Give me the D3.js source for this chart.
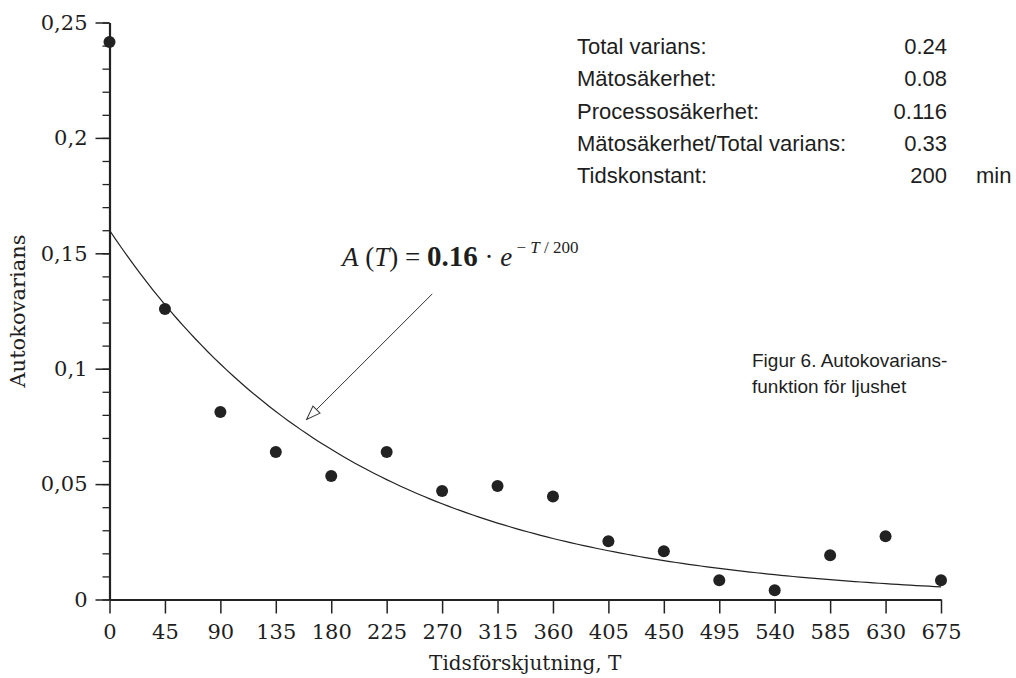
<!DOCTYPE html>
<html lang="sv">
<head>
  <meta charset="UTF-8">
  <title>Autokovariansfunktion</title>
  <style>
    body { margin: 0; background: #fff; }
    svg text { fill: #1e1e1e; }
  </style>
</head>
<body>
  <script src="https://d3js.org/d3.v7.min.js"></script>
  <script>
    const width = 1016;
    const height = 678;

    // data
    const lags = [0, 45, 90, 135, 180, 225, 270, 315, 360, 405, 450, 495, 540, 585, 630, 675];
    const autocov = [0.2416, 0.1259, 0.0812, 0.0639, 0.0535, 0.0639, 0.047, 0.0492,
                     0.0446, 0.0252, 0.0209, 0.0083, 0.004, 0.0192, 0.0274, 0.0083];
    const yTicks = [0, 0.05, 0.1, 0.15, 0.2, 0.25];
    // fitted model A(T) = 0.16 * exp(-T/200)
    const fitAmp = 0.16;
    const fitTau = 200;

    const statLabels = ['Total varians:', 'Mätosäkerhet:', 'Processosäkerhet:', 'Mätosäkerhet/Total varians:', 'Tidskonstant:'];
    const statValues = ['0.24', '0.08', '0.116', '0.33', '200'];
    const statUnits = ['', '', '', '', 'min'];

    const x = d3.scaleLinear().domain([0, 675]).range([109.5, 941]);
    const y = d3.scaleLinear().domain([0, 0.25]).range([599.5, 22.5]);

    const svg = d3.select('body')
                  .append('svg')
                  .attr('width', width)
                  .attr('height', height);

    const serif = 'DejaVu Serif, serif';
    const sans = 'Liberation Sans, Arial, sans-serif';

    // y axis, major + minor ticks
    const yMinor = svg.append('g')
        .attr('transform', 'translate(' + x(0) + ',0)')
        .call(d3.axisLeft(y).ticks(25).tickSize(7).tickFormat(''));
    yMinor.select('.domain').remove();
    yMinor.selectAll('line').attr('stroke', '#222').attr('stroke-width', 1.3);

    const yAxis = svg.append('g')
        .attr('transform', 'translate(' + x(0) + ',0)')
        .call(d3.axisLeft(y).tickValues(yTicks).tickSizeInner(14).tickSizeOuter(0).tickPadding(8)
              .tickFormat(d => d3.format('~g')(d).replace('.', ',')));
    yAxis.select('.domain').attr('stroke', '#222').attr('stroke-width', 2.2);
    yAxis.selectAll('line').attr('stroke', '#222').attr('stroke-width', 1.5);
    yAxis.selectAll('text').style('font-family', serif).style('font-size', '21px').style('fill', '#1e1e1e');

    // x axis
    const xAxis = svg.append('g')
        .attr('transform', 'translate(0,' + y(0) + ')')
        .call(d3.axisBottom(x).tickValues(lags).tickSizeInner(14).tickSizeOuter(0).tickPadding(11));
    xAxis.select('.domain').attr('stroke', '#222').attr('stroke-width', 2.2);
    xAxis.selectAll('line').attr('stroke', '#222').attr('stroke-width', 1.5);
    xAxis.selectAll('text').style('font-family', serif).style('font-size', '21px').style('fill', '#1e1e1e');

    // axis titles
    svg.append('text')
        .attr('x', x(337.5))
        .attr('y', 670)
        .attr('text-anchor', 'middle')
        .style('font-family', serif)
        .style('font-size', '20px')
        .text('Tidsförskjutning, T');

    svg.append('text')
        .attr('transform', 'translate(25,' + y(0.125) + ') rotate(-90)')
        .attr('text-anchor', 'middle')
        .style('font-family', serif)
        .style('font-size', '21px')
        .text('Autokovarians');

    // fitted curve
    const curveT = d3.range(0, 676, 5);
    const line = d3.line()
        .x(t => x(t))
        .y(t => y(fitAmp * Math.exp(-t / fitTau)));
    svg.append('path')
        .datum(curveT)
        .attr('d', line)
        .attr('fill', 'none')
        .attr('stroke', '#222')
        .attr('stroke-width', 1.2);

    // measured points
    svg.selectAll('circle.pt')
        .data(lags)
        .enter()
        .append('circle')
        .attr('class', 'pt')
        .attr('cx', d => x(d))
        .attr('cy', (d, i) => y(autocov[i]))
        .attr('r', 6)
        .attr('fill', '#222');

    // formula + arrow
    const formula = svg.append('text')
        .attr('x', 342)
        .attr('y', 266)
        .style('font-family', 'Liberation Serif, serif')
        .style('font-size', '27px');
    formula.append('tspan').style('font-style', 'italic').text('A');
    formula.append('tspan').text(' (');
    formula.append('tspan').style('font-style', 'italic').text('T');
    formula.append('tspan').text(') = ');
    formula.append('tspan').style('font-weight', 'bold').style('font-size', '29px').text('0.16');
    formula.append('tspan').text(' · ');
    formula.append('tspan').style('font-style', 'italic').text('e');
    const sup = formula.append('tspan').attr('dy', -13).style('font-size', '17px');
    sup.append('tspan').text(' − ');
    sup.append('tspan').style('font-style', 'italic').text('T');
    sup.append('tspan').text(' / 200');

    svg.append('defs').append('marker')
        .attr('id', 'openArrow')
        .attr('viewBox', '0 0 16 12')
        .attr('refX', 15)
        .attr('refY', 6)
        .attr('markerWidth', 16)
        .attr('markerHeight', 12)
        .attr('markerUnits', 'userSpaceOnUse')
        .attr('orient', 'auto')
        .append('path')
        .attr('d', 'M1,1 L15,6 L1,11 Z')
        .attr('fill', '#fff')
        .attr('stroke', '#333')
        .attr('stroke-width', 1);

    svg.append('line')
        .attr('x1', x(262))
        .attr('y1', y(0.1324))
        .attr('x2', x(160))
        .attr('y2', y(0.078))
        .attr('stroke', '#333')
        .attr('stroke-width', 1)
        .attr('marker-end', 'url(#openArrow)');

    // stats table
    const rowY = d3.scaleLinear().domain([0, 4]).range([54, 183]);
    statLabels.forEach((lab, i) => {
      svg.append('text')
          .attr('x', 577)
          .attr('y', rowY(i))
          .style('font-family', sans)
          .style('font-size', '22px')
          .text(lab);
      svg.append('text')
          .attr('x', 947)
          .attr('y', rowY(i))
          .attr('text-anchor', 'end')
          .style('font-family', sans)
          .style('font-size', '22px')
          .text(statValues[i]);
      if (statUnits[i]) {
        svg.append('text')
            .attr('x', 976)
            .attr('y', rowY(i))
            .style('font-family', sans)
            .style('font-size', '22px')
            .text(statUnits[i]);
      }
    });

    // caption
    const cap = svg.append('text')
        .style('font-family', sans)
        .style('font-size', '19px');
    cap.append('tspan').attr('x', 752).attr('y', 367).text('Figur 6. Autokovarians-');
    cap.append('tspan').attr('x', 752).attr('y', 393).text('funktion för ljushet');
  </script>
</body>
</html>
